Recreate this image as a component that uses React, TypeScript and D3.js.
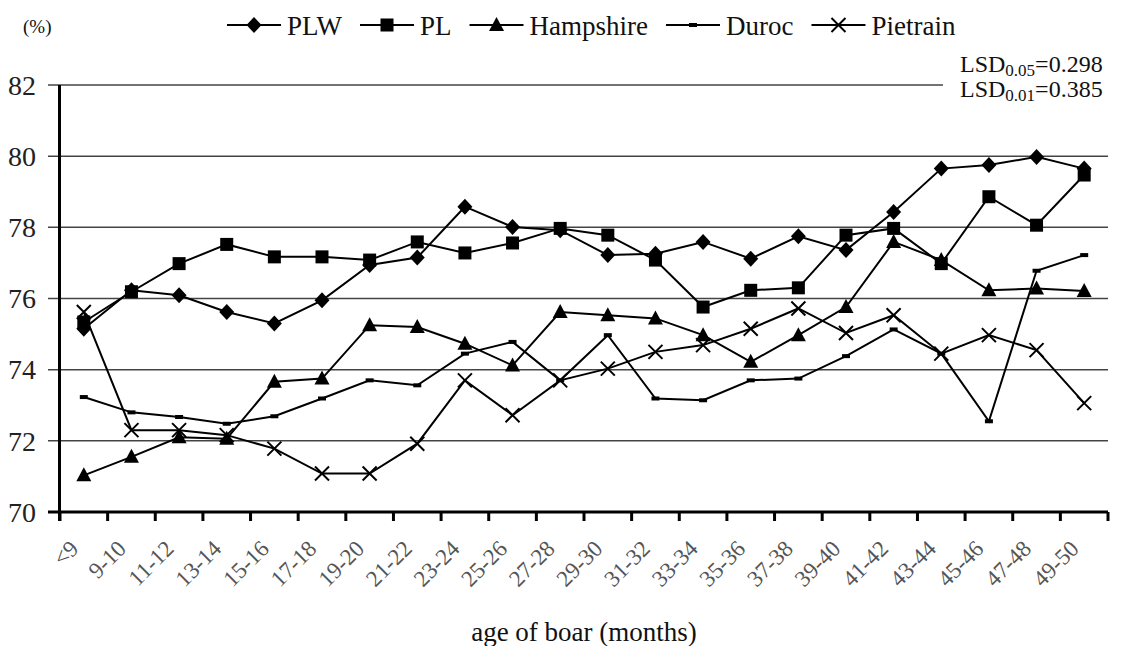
import { useRef, useEffect } from "react";
import * as d3 from "d3";

const categories = [
  "<9", "9-10", "11-12", "13-14", "15-16", "17-18", "19-20", "21-22", "23-24", "25-26", "27-28",
  "29-30", "31-32", "33-34", "35-36", "37-38", "39-40", "41-42", "43-44", "45-46", "47-48", "49-50",
];

const plw = [75.15, 76.23, 76.09, 75.62, 75.3, 75.95, 76.94, 77.15, 78.58, 78.01, 77.92, 77.22, 77.26, 77.59, 77.12, 77.75, 77.36, 78.43, 79.65, 79.75, 79.98, 79.65];
const pl = [75.34, 76.19, 76.98, 77.52, 77.17, 77.17, 77.08, 77.59, 77.28, 77.56, 77.97, 77.78, 77.08, 75.76, 76.23, 76.3, 77.78, 77.97, 76.98, 78.86, 78.06, 79.47];
const hampshire = [71.03, 71.55, 72.1, 72.06, 73.66, 73.75, 75.25, 75.2, 74.73, 74.12, 75.62, 75.53, 75.44, 74.97, 74.22, 74.97, 75.76, 77.59, 77.08, 76.23, 76.28, 76.21];
const duroc = [73.23, 72.8, 72.67, 72.48, 72.69, 73.19, 73.7, 73.56, 74.45, 74.78, 73.7, 74.97, 73.19, 73.14, 73.7, 73.75, 74.38, 75.13, 74.45, 72.55, 76.78, 77.22];
const pietrain = [75.62, 72.3, 72.3, 72.16, 71.78, 71.08, 71.08, 71.92, 73.7, 72.72, 73.7, 74.03, 74.5, 74.69, 75.15, 75.72, 75.03, 75.53, 74.45, 74.97, 74.55, 73.06];

const seriesNames = ["PLW", "PL", "Hampshire", "Duroc", "Pietrain"];
const seriesValues = [plw, pl, hampshire, duroc, pietrain];
const markerKinds = ["diamond", "square", "triangle", "dash", "cross"];

const yTicks = [70, 72, 74, 76, 78, 80, 82];
const lsdLines = [
  { sub: "0.05", value: "0.298" },
  { sub: "0.01", value: "0.385" },
];

const W = 1122;
const H = 646;
const FONT = "Liberation Serif, Times New Roman, Times, DejaVu Serif, serif";

type G = d3.Selection<SVGGElement, unknown, null, undefined>;

function marker(g: G, kind: string, cx: number, cy: number) {
  if (kind === "diamond") {
    g.append("path").attr("d", `M${cx},${cy - 8}L${cx + 7.5},${cy}L${cx},${cy + 8}L${cx - 7.5},${cy}Z`).attr("fill", "#000");
  } else if (kind === "square") {
    g.append("rect").attr("x", cx - 6.5).attr("y", cy - 6.5).attr("width", 13).attr("height", 13).attr("fill", "#000");
  } else if (kind === "triangle") {
    g.append("path").attr("d", `M${cx},${cy - 8}L${cx + 7.5},${cy + 6}L${cx - 7.5},${cy + 6}Z`).attr("fill", "#000");
  } else if (kind === "dash") {
    g.append("rect").attr("x", cx - 4).attr("y", cy - 2).attr("width", 8).attr("height", 4).attr("fill", "#000");
  } else {
    g.append("path")
      .attr("d", `M${cx - 7},${cy - 7}L${cx + 7},${cy + 7}M${cx - 7},${cy + 7}L${cx + 7},${cy - 7}`)
      .attr("stroke", "#000")
      .attr("stroke-width", 2);
  }
}

export default function App() {
  const ref = useRef<SVGSVGElement | null>(null);

  useEffect(() => {
    const svg = d3.select(ref.current);
    svg.selectAll("*").remove();

    const x = d3.scaleBand<string>().domain(categories).range([60, 1108]);
    const y = d3.scaleLinear().domain([70, 82]).range([512, 85]);
    const cx = (c: string) => (x(c) ?? 0) + x.bandwidth() / 2;

    svg.append("rect").attr("width", W).attr("height", H).attr("fill", "#fff");

    // grid + y ticks
    const grid = svg.append("g");
    yTicks.forEach((t) => {
      if (t === 70) return;
      grid.append("line")
        .attr("x1", 48).attr("x2", 1108)
        .attr("y1", y(t)).attr("y2", y(t))
        .attr("stroke", "#444").attr("stroke-width", 1.5);
    });
    grid.selectAll("text.yl")
      .data(yTicks)
      .enter()
      .append("text")
      .attr("x", 36)
      .attr("y", (d) => y(d))
      .attr("dy", "0.35em")
      .attr("text-anchor", "end")
      .style("font-family", FONT)
      .attr("font-size", 28)
      .attr("fill", "#222")
      .text((d) => d);

    // axes
    const axes = svg.append("g").attr("stroke", "#000").attr("stroke-width", 3);
    axes.append("line").attr("x1", 59.5).attr("x2", 59.5).attr("y1", y(82)).attr("y2", 521);
    axes.append("line").attr("x1", 48).attr("x2", 1108).attr("y1", 512).attr("y2", 512);
    categories.forEach((c) => {
      const px = x(c) ?? 0;
      axes.append("line").attr("x1", px).attr("x2", px).attr("y1", 512).attr("y2", 521);
    });
    axes.append("line").attr("x1", 1108).attr("x2", 1108).attr("y1", 512).attr("y2", 521);

    // x labels
    svg.append("g")
      .selectAll("text")
      .data(categories)
      .enter()
      .append("text")
      .attr("transform", (d) => `translate(${cx(d) - 4},${550}) rotate(-45)`)
      .attr("text-anchor", "end")
      .style("font-family", FONT)
      .attr("font-size", 23)
      .attr("fill", "#555")
      .text((d) => d);

    svg.append("text")
      .attr("x", 584).attr("y", 641)
      .attr("text-anchor", "middle")
      .style("font-family", FONT)
      .attr("font-size", 27)
      .attr("fill", "#111")
      .text("age of boar (months)");

    // series
    const line = d3.line<number>()
      .x((_, i) => cx(categories[i]))
      .y((d) => y(d));
    seriesValues.forEach((vals, si) => {
      const g = svg.append("g");
      g.append("path")
        .attr("d", line(vals))
        .attr("fill", "none")
        .attr("stroke", "#000")
        .attr("stroke-width", 2);
      vals.forEach((v, i) => marker(g, markerKinds[si], cx(categories[i]), y(v)));
    });

    // LSD box
    svg.append("rect").attr("x", 943).attr("y", 50).attr("width", 179).attr("height", 54).attr("fill", "#fff");
    lsdLines.forEach((l, i) => {
      const t = svg.append("text")
        .attr("x", 960).attr("y", 72 + i * 25)
        .style("font-family", FONT)
        .attr("font-size", 24)
        .attr("fill", "#111");
      t.append("tspan").text("LSD");
      t.append("tspan").attr("font-size", 17).attr("dy", 4).text(l.sub);
      t.append("tspan").attr("dy", -4).text("=" + l.value);
    });

    // legend
    svg.append("text")
      .attr("x", 23).attr("y", 33)
      .style("font-family", FONT)
      .attr("font-size", 19)
      .attr("fill", "#111")
      .text("(%)");

    const leg = svg.append("g");
    let lx = 227;
    seriesNames.forEach((name, si) => {
      leg.append("line")
        .attr("x1", lx).attr("x2", lx + 54)
        .attr("y1", 25).attr("y2", 25)
        .attr("stroke", "#000").attr("stroke-width", 2);
      marker(leg, markerKinds[si], lx + 27, 25);
      const t = leg.append("text")
        .attr("x", lx + 60).attr("y", 35)
        .style("font-family", FONT)
        .attr("font-size", 27)
        .attr("fill", "#111")
        .text(name);
      const w = (t.node() as SVGTextElement).getComputedTextLength();
      lx = lx + 60 + w + 18;
    });
  }, []);

  return (
    <svg
      ref={ref}
      width={W}
      height={H}
      style={{ position: "absolute", left: 0, top: 0 }}
    ></svg>
  );
}
